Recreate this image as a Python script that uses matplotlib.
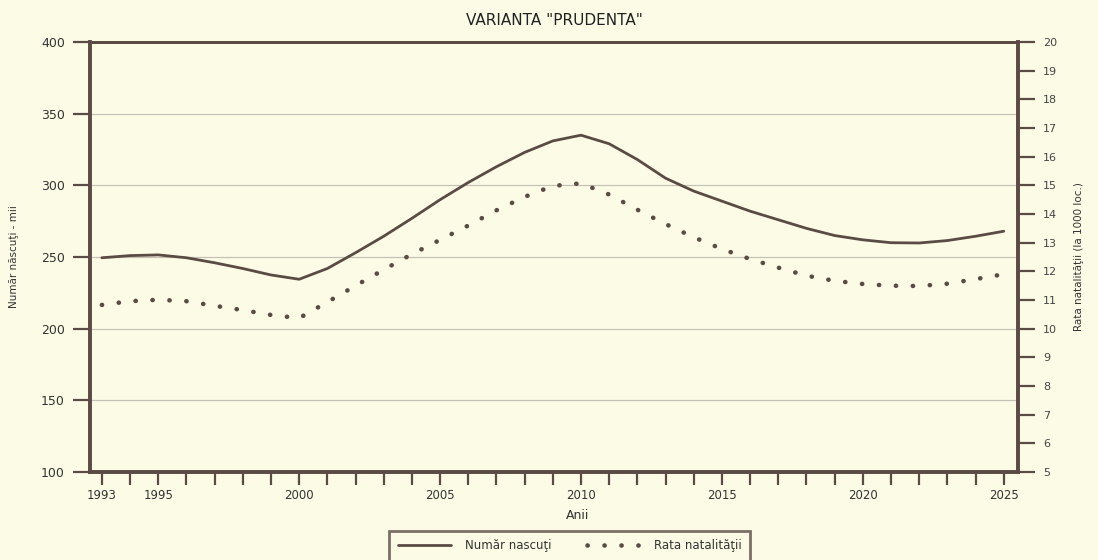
import matplotlib.pyplot as plt

# data (per year)
years = list(range(1993, 2026))
nascuti = [249.5, 251, 251.5, 249.5, 246, 242, 237.5, 234.5, 242, 253,
           264.5, 277, 290, 302, 313, 323, 331, 335, 329, 318,
           305, 296, 289, 282, 276, 270, 265, 262, 260, 259.8,
           261.5, 264.5, 268]
natalitate = [10.83, 10.96, 11.01, 10.96, 10.8, 10.65, 10.48, 10.37, 10.93, 11.5,
              12.06, 12.6, 13.1, 13.6, 14.13, 14.6, 14.98, 15.07, 14.68, 14.15,
              13.65, 13.19, 12.78, 12.43, 12.13, 11.85, 11.67, 11.56, 11.5, 11.49,
              11.57, 11.73, 11.9]
year_labels = [1993, 1995, 2000, 2005, 2010, 2015, 2020, 2025]

bg = '#fcfce6'
ink = '#5b4b45'
plt.rcParams['font.family'] = ['DejaVu Sans']

fig = plt.figure(figsize=(10.98, 5.60), dpi=100, facecolor=bg)
ax = fig.add_axes([0.082, 0.157, 0.845, 0.768], facecolor=bg)
ax2 = ax.twinx()

l1, = ax.plot(years, nascuti, color=ink, lw=2.0, solid_capstyle='round',
              solid_joinstyle='round')
l2, = ax2.plot(years, natalitate, color=ink, lw=3.3,
               linestyle=(0, (0.05, 3.65)), dash_capstyle='round')

ax.set_xlim(1992.58, 2025.5)
ax.set_ylim(100, 400)
ax2.set_ylim(5, 20)

ax.set_yticks(range(100, 401, 50))
ax.yaxis.grid(True, color='#c4c1b6', lw=0.9)
ax.set_axisbelow(True)
ax2.set_yticks(range(5, 21))

ax.set_xticks(years)
ax.set_xticklabels([str(y) if y in year_labels else '' for y in years])

ax.tick_params(axis='x', direction='out', length=9, width=1.6, color=ink,
               labelsize=8.5, labelcolor='#333333', pad=3)
ax.tick_params(axis='y', direction='out', length=12, width=1.6, color=ink,
               labelsize=9, labelcolor='#333333', pad=6)
ax2.tick_params(axis='y', direction='out', length=12, width=1.6, color=ink,
                labelsize=8, labelcolor='#444444', pad=6)

for a in (ax, ax2):
    for side in ('left', 'right', 'bottom'):
        a.spines[side].set_color(ink)
        a.spines[side].set_linewidth(2.6)
    a.spines['top'].set_color(ink)
    a.spines['top'].set_linewidth(2.0)

ax.set_title('VARIANTA "PRUDENTA"', fontsize=11, color='#222222', pad=12)
ax.set_ylabel('Număr născuţi - mii', fontsize=7.5, color='#333333', labelpad=16)
ax2.set_ylabel('Rata natalităţii (la 1000 loc.)', fontsize=7.5, color='#333333',
               labelpad=12)
ax.set_xlabel('Anii', fontsize=9, color='#333333', labelpad=0)
ax.xaxis.set_label_coords(0.526, -0.085)

leg = fig.legend([l1, l2], ['Număr nascuţi', 'Rata natalităţii'], ncol=2,
                 loc='upper center', bbox_to_anchor=(0.519, 0.062),
                 frameon=True, fancybox=False, fontsize=8.5, handlelength=4.5,
                 handletextpad=1.2, columnspacing=3.0, borderpad=0.7)
leg.get_frame().set_edgecolor(ink)
leg.get_frame().set_linewidth(2.0)
leg.get_frame().set_facecolor(bg)
for t in leg.get_texts():
    t.set_color('#333333')

fig.savefig('out.png', dpi=100, facecolor=bg)
